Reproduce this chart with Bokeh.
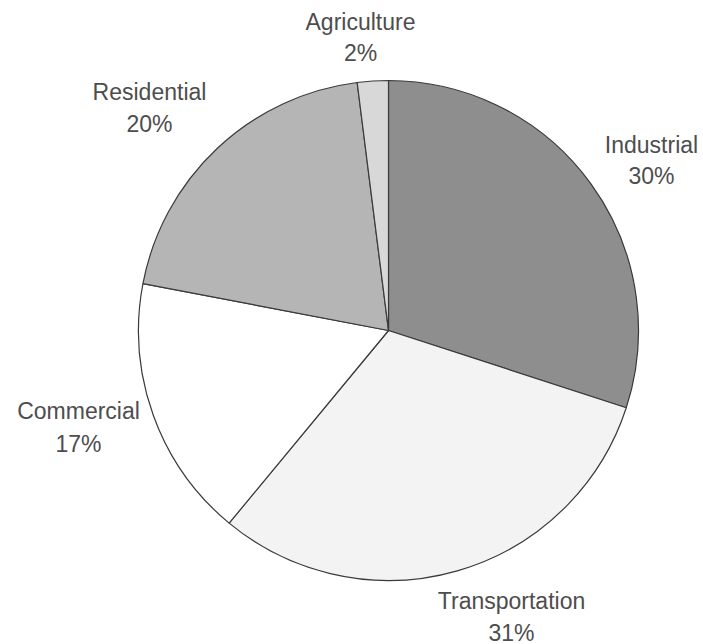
import math
from bokeh.plotting import figure
from bokeh.models import Range1d, ColumnDataSource
from bokeh.core.properties import value
from bokeh.embed import file_html
from bokeh.resources import INLINE

# ---- data ----
categories = ["Industrial", "Transportation", "Commercial", "Residential", "Agriculture"]
percents = [30, 31, 17, 20, 2]

# ---- styles / layout ----
colors = ["#8e8e8e", "#f3f3f3", "#ffffff", "#b5b5b5", "#d8d8d8"]
W, H = 703, 644
cx_px, cy_px, radius = 388, 330, 250
# label anchors (pixel x, pixel vertical middle of each line)
label_pos = [((651, 144), (651, 175)),
             ((511, 600), (511, 632)),
             ((78, 410), (78, 443)),
             ((149, 91), (149, 123)),
             ((360, 21), (360, 52))]

p = figure(width=W, height=H, output_backend="svg", toolbar_location=None,
           x_range=Range1d(0, W), y_range=Range1d(0, H), min_border=0)
p.axis.visible = False
p.grid.visible = False
p.outline_line_color = None
p.background_fill_color = "white"
p.border_fill_color = "white"

total = float(sum(percents))
starts, ends = [], []
cum = 0.0
for v in percents:
    a0 = cum / total * 2 * math.pi
    cum += v
    a1 = cum / total * 2 * math.pi
    starts.append(math.pi / 2 - a1)
    ends.append(math.pi / 2 - a0)

src = ColumnDataSource(dict(
    x=[cx_px] * len(categories), y=[H - cy_px] * len(categories),
    start=starts, end=ends, color=colors, cat=categories))
p.wedge(x="x", y="y", radius=radius, start_angle="start", end_angle="end",
        fill_color="color", line_color="#3a3a3a", line_width=1.2, source=src)

lx, ly, lt = [], [], []
for cat, v, (pos1, pos2) in zip(categories, percents, label_pos):
    lx += [pos1[0], pos2[0]]
    ly += [H - pos1[1], H - pos2[1]]
    lt += [cat, f"{v}%"]

p.text(x=lx, y=ly, text=lt, text_align="center", text_baseline="middle",
       text_font=value("Liberation Sans"), text_font_size="23px",
       text_color="#4d4d4d")

open("out.html", "w").write(file_html(p, INLINE))
